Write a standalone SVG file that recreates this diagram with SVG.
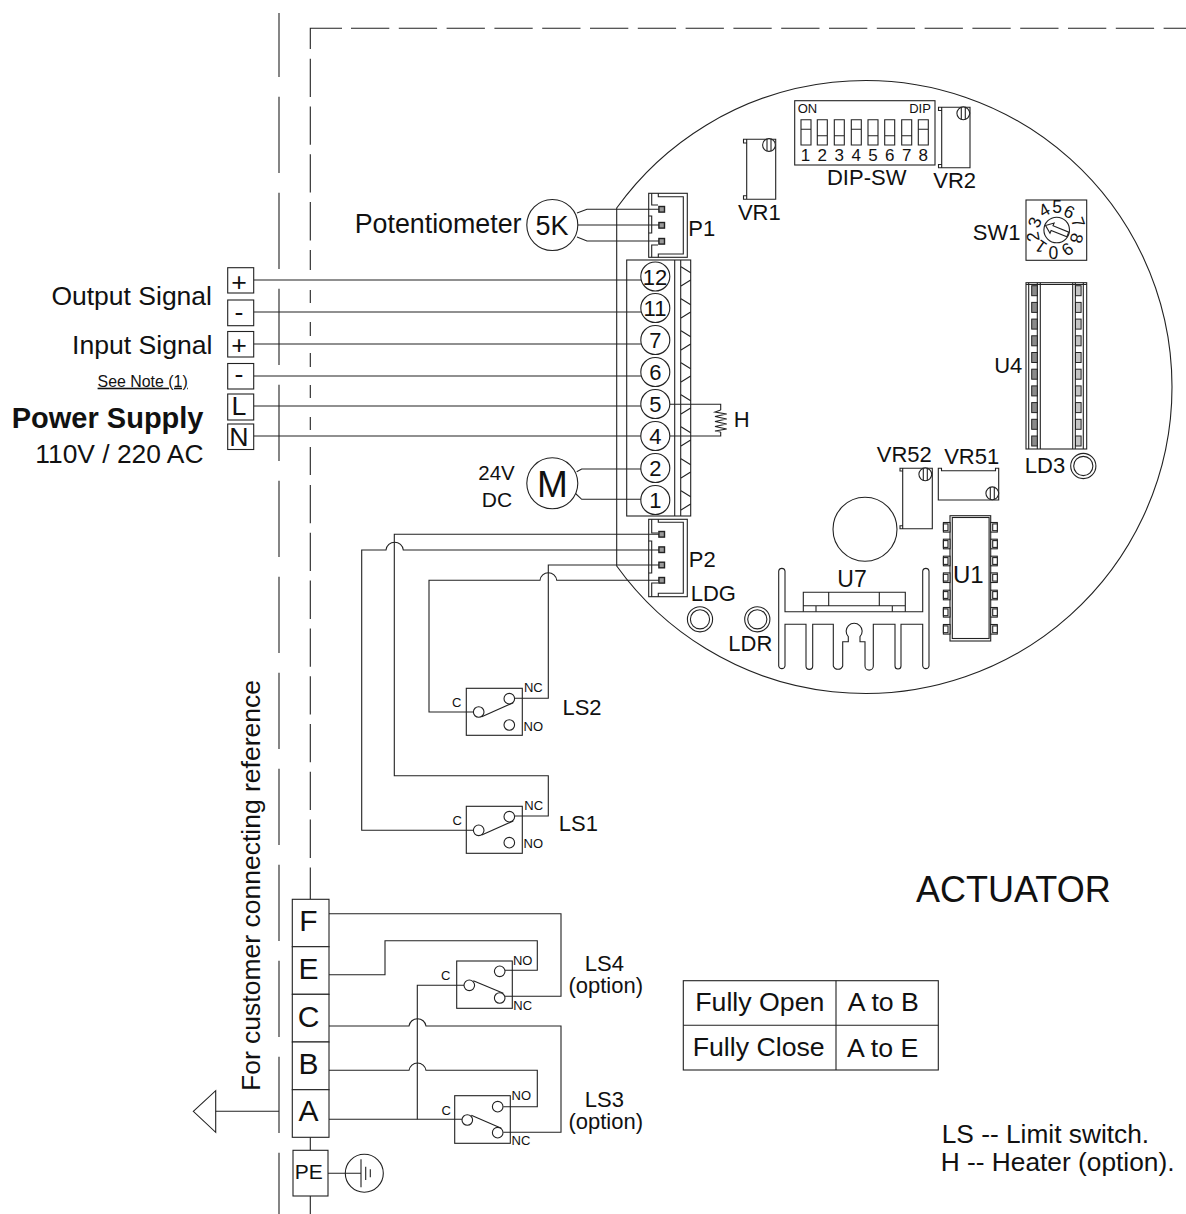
<svg xmlns="http://www.w3.org/2000/svg" width="1186" height="1214" viewBox="0 0 1186 1214">
<defs>
<style>
text{font-family:"Liberation Sans",Arial,sans-serif;fill:#111}
.l,.l *{fill:none;stroke:#222;stroke-width:1.1}
.m{text-anchor:middle}
.e{text-anchor:end}
.s13{font-size:13px}.s21{font-size:22px}.s22{font-size:22px}.s26{font-size:26.7px}.s29{font-size:30px}
.r{fill:#fff;stroke:#222;stroke-width:1.1}
</style>
<g id="pin"><rect x="-2.8" y="-2.8" width="5.6" height="5.6" fill="#999" stroke="#222" stroke-width="1.4"/></g>
<g id="icpin"><rect x="0" y="-4.8" width="6.6" height="9.6" class="r"/><rect x="2" y="-3.4" width="4.6" height="6.8" class="r"/></g>
<g id="u4pin"><rect x="0" y="-5" width="5.6" height="10" fill="#8a8a8a" stroke="#222" stroke-width="1"/></g>
<g id="u4pinr"><rect x="0" y="-5" width="5.6" height="10" fill="#c4c4c4" stroke="#222" stroke-width="1"/></g>
<g id="screw"><circle r="6.4" class="r"/><path d="M-2 -6V6M2 -6V6" class="l"/></g>
<g id="tooth"><path d="M681 266.7L690.7 272.7M690.7 280L681 286" class="l"/></g>
</defs>
<rect width="1186" height="1214" fill="#fff"/>

<g id="boundaries" class="l">
<path d="M279 13V77"/>
<path d="M279 96.7V1214" stroke-dasharray="76.3 19.7"/>
<path d="M310.3 49V28.3H342"/>
<path d="M351 28.3H1186" stroke-dasharray="38.3 9.5"/>
<path d="M310.3 58.7V250" stroke-dasharray="38.3 9.5"/>
<path d="M310.3 250V270M310.3 290V303M310.3 322V336M310.3 353V367M310.3 385V398M310.3 417V430M310.3 447V475"/>
<path d="M310.3 485V899" stroke-dasharray="38.3 9.5"/>
<path d="M310.3 1137V1150M310.3 1196V1214"/>
</g>

<g id="board" class="l">
<path d="M616.7 208A306.5 306.5 0 1 1 616.7 566Z"/>
</g>

<g id="connectors" class="l">
<path d="M253.7 280H641M253.7 312H641M253.7 344H641M253.7 376H641M253.7 406H641M253.7 436H641"/>
<path d="M577 213L587 209.3H661M577.5 225H661M577 237L587 241H661"/>
<path d="M576.7 471.7L581.7 469H641.7M575 493L581.7 499.3H641.7"/>
<path d="M670 404.3H720.7V410M720.7 432V436H670"/>
<path d="M720.7 410L715 412L726.7 414L715 416.5L726.7 419L715 421.5L726.7 424L715 426.5L726.7 429L715 431L720.7 432"/>
<path d="M661 534.3H394.3V775.7H548.3V816H515"/>
<path d="M661 550H403.3A8.7 8.7 0 0 0 386 550H361.7V830.3H473.3"/>
<path d="M661 565H548.3V698.3H515"/>
<path d="M661 580.3H556.7A8.4 8.4 0 0 0 540 580.3H429V712H473.3"/>
<path d="M329 913.7H561V996.3H505"/>
<path d="M329 974.7H385V940.7H537.3V970.3H505"/>
<path d="M329 1026H409A8.6 8.6 0 0 1 426 1026H561V1132.3H503.3"/>
<path d="M329 1070.3H409A8.6 8.6 0 0 1 426 1070.3H537.3V1106.7H503.3"/>
<path d="M329 1119.3H462"/>
<path d="M417.3 1119.3V985.3H464"/>
<path d="M328 1173.3H361"/>
<path d="M215.7 1111.3H279"/>
</g>

<g id="terminal-output-plus"><rect x="227.7" y="267.7" width="26" height="25.3" class="r"/><text x="239" y="290.7" class="m s26">+</text></g>
<g id="terminal-output-minus"><rect x="227.7" y="300" width="26" height="25.7" class="r"/><text x="239" y="320.5" class="m s26">-</text></g>
<g id="terminal-input-plus"><rect x="227.7" y="331.5" width="26" height="25.5" class="r"/><text x="239" y="353.5" class="m s26">+</text></g>
<g id="terminal-input-minus"><rect x="227.7" y="363.5" width="26" height="25.5" class="r"/><text x="239" y="382.5" class="m s26">-</text></g>
<g id="terminal-l"><rect x="227.7" y="394" width="26" height="26" class="r"/><text x="239" y="415" class="m s26">L</text></g>
<g id="terminal-n"><rect x="227.7" y="424" width="26" height="25.5" class="r"/><text x="239" y="445.7" class="m s26">N</text></g>

<g id="left-labels">
<text x="212" y="305" class="e" font-size="26.5">Output Signal</text>
<text x="212.5" y="354" class="e" font-size="26.6">Input Signal</text>
<text x="187.7" y="386.7" class="e" font-size="15.9" text-decoration="underline" style="text-decoration-skip-ink:none">See Note (1)</text>
<text x="203.5" y="428" class="e" font-size="29" font-weight="bold">Power Supply</text>
<text x="203.5" y="463" class="e" font-size="26.4">110V / 220 AC</text>
<text x="521.5" y="232.5" class="e" font-size="26.8">Potentiometer</text>
<text x="496.5" y="479.5" class="m" font-size="20.5">24V</text>
<text x="497" y="507" class="m" font-size="21">DC</text>
<text transform="translate(260 1091) rotate(-90)" font-size="26.5">For customer connecting reference</text>
</g>

<g id="potentiometer"><circle cx="552.3" cy="225" r="25.5" class="r"/><text x="552" y="234.5" class="m" font-size="27">5K</text></g>
<g id="motor"><circle cx="552.3" cy="483.3" r="25.5" class="r"/><text x="552.3" y="496.5" class="m" font-size="37">M</text></g>

<g id="terminal-block">
<rect x="626.7" y="260" width="64" height="256" fill="none" stroke="#222" stroke-width="1.1"/>
<path d="M674.7 260V516M680.7 260V516" class="l"/>
<use href="#tooth"/><use href="#tooth" y="32"/><use href="#tooth" y="64"/><use href="#tooth" y="96"/><use href="#tooth" y="128"/><use href="#tooth" y="160"/><use href="#tooth" y="192"/><use href="#tooth" y="224"/>
<circle cx="655.3" cy="276.5" r="14.5" class="r"/><text x="655" y="284.5" class="m s21">12</text>
<circle cx="655.3" cy="308" r="14.5" class="r"/><text x="655" y="316" class="m s21">11</text>
<circle cx="655.3" cy="340" r="14.5" class="r"/><text x="655.3" y="348" class="m s21">7</text>
<circle cx="655.3" cy="372" r="14.5" class="r"/><text x="655.3" y="380" class="m s21">6</text>
<circle cx="655.3" cy="404" r="14.5" class="r"/><text x="655.3" y="412" class="m s21">5</text>
<circle cx="655.3" cy="436" r="14.5" class="r"/><text x="655.3" y="444" class="m s21">4</text>
<circle cx="655.3" cy="468" r="14.5" class="r"/><text x="655.3" y="476" class="m s21">2</text>
<circle cx="655.3" cy="500" r="14.5" class="r"/><text x="655.3" y="508" class="m s21">1</text>
</g>

<g id="heater-label"><text x="741.7" y="427" class="m s22">H</text></g>

<g id="p1">
<rect x="648.7" y="193.3" width="38.6" height="64" fill="none" stroke="#222" stroke-width="1.1"/>
<path d="M658.3 193.3V196.7H683.3V254H658.3V257.3M651.7 193.3V205H658M648.7 216H651.7V233H648.7M658 245H651.7V257.3" class="l"/>
<use href="#pin" x="661.7" y="209.3"/><use href="#pin" x="661.7" y="225.3"/><use href="#pin" x="661.7" y="241.3"/>
<text x="701.7" y="236" class="m s22">P1</text>
</g>
<g id="p2">
<rect x="648.7" y="519.3" width="38.6" height="77.4" fill="none" stroke="#222" stroke-width="1.1"/>
<path d="M658.3 519.3V522.3H683.3V593.3H658.3V596.7M651.7 519.3V533H658M648.7 541H651.7V573H648.7M658 583H651.7V596.7" class="l"/>
<use href="#pin" x="661.7" y="534.3"/><use href="#pin" x="661.7" y="549.7"/><use href="#pin" x="661.7" y="565"/><use href="#pin" x="661.7" y="580.3"/>
<text x="702.3" y="567" class="m s22">P2</text>
</g>

<g id="vr1">
<path d="M746.7 139.3H775.7V199.3H746.7ZM746.7 139.3H743.5V143H746.7M746.7 195.7H743.5V199.3H746.7" class="l"/>
<use href="#screw" x="769" y="145"/>
<text x="759.3" y="219.5" class="m s22">VR1</text>
</g>
<g id="vr2">
<path d="M941.7 107.3H970V167.7H941.7ZM941.7 107.3H938.5V110.5H941.7M941.7 164.5H938.5V167.7H941.7" class="l"/>
<use href="#screw" x="963.3" y="113.3"/>
<text x="954.7" y="188" class="m s22">VR2</text>
</g>
<g id="dip-sw">
<rect x="794.7" y="100.7" width="140.3" height="64.3" fill="none" stroke="#222" stroke-width="1.1"/>
<text x="807.5" y="113" class="m s13">ON</text><text x="920" y="112.5" class="m s13">DIP</text>
<g class="l">
<path d="M801 119.7h10v25.3h-10zM801 129.3h10"/>
<path d="M817.3 119.7h10v25.3h-10zM817.3 135.7h10"/>
<path d="M834.3 119.7h10v25.3h-10zM834.3 135.7h10"/>
<path d="M851.3 119.7h10v25.3h-10zM851.3 129.3h10"/>
<path d="M868 119.7h10v25.3h-10zM868 135.7h10"/>
<path d="M884.7 119.7h10v25.3h-10zM884.7 135.7h10"/>
<path d="M901.7 119.7h10v25.3h-10zM901.7 135.7h10"/>
<path d="M918.3 119.7h10v25.3h-10zM918.3 129.3h10"/>
</g>
<g font-size="17" class="m">
<text x="805.5" y="161">1</text><text x="822.3" y="161">2</text><text x="839.3" y="161">3</text><text x="856.3" y="161">4</text><text x="873" y="161">5</text><text x="889.7" y="161">6</text><text x="906.7" y="161">7</text><text x="923.3" y="161">8</text>
</g>
<text x="866.7" y="185" class="m s22">DIP-SW</text>
</g>

<g id="sw1">
<rect x="1026" y="200" width="60.7" height="60.3" fill="none" stroke="#222" stroke-width="1.1"/>
<circle cx="1056.7" cy="230" r="12.8" class="r"/>
<path transform="translate(1056.7 230) rotate(22)" d="M-12 0L-5 -5.5V-2.5H12V2.5H-5V5.5Z" class="l"/>
<g font-size="17.5" class="m">
<text transform="translate(1057 206.7)" y="6.2">5</text>
<text transform="translate(1069.3 211.7) rotate(25)" y="6.2">6</text>
<text transform="translate(1078.3 222.3) rotate(70)" y="6.2">7</text>
<text transform="translate(1076.7 238.3) rotate(105)" y="6.2">8</text>
<text transform="translate(1067.7 249.3) rotate(145)" y="6.2">9</text>
<text transform="translate(1053.3 252.7) rotate(180)" y="6.2">0</text>
<text transform="translate(1040.7 246.7) rotate(215)" y="6.2">1</text>
<text transform="translate(1032.7 236.7) rotate(-100)" y="6.2">2</text>
<text transform="translate(1034.5 222.3) rotate(-70)" y="6.2">3</text>
<text transform="translate(1044 210) rotate(-30)" y="6.2">4</text>
</g>
<text x="996.7" y="239.5" class="m s22">SW1</text>
</g>

<g id="u4">
<rect x="1026" y="282.7" width="60.7" height="166.3" fill="none" stroke="#222" stroke-width="1.1"/>
<path d="M1026 284.5H1086.7M1028.7 282.7V449M1037.3 282.7V449M1040.3 282.7V449M1072.7 282.7V449M1075.3 282.7V449M1083.3 282.7V449" class="l"/>
<use href="#u4pin" x="1031.7" y="290.7"/><use href="#u4pin" x="1031.7" y="307.4"/><use href="#u4pin" x="1031.7" y="324.1"/><use href="#u4pin" x="1031.7" y="340.8"/><use href="#u4pin" x="1031.7" y="357.5"/><use href="#u4pin" x="1031.7" y="374.2"/><use href="#u4pin" x="1031.7" y="390.9"/><use href="#u4pin" x="1031.7" y="407.6"/><use href="#u4pin" x="1031.7" y="424.3"/><use href="#u4pin" x="1031.7" y="441"/>
<use href="#u4pinr" x="1075.5" y="290.7"/><use href="#u4pinr" x="1075.5" y="307.4"/><use href="#u4pinr" x="1075.5" y="324.1"/><use href="#u4pinr" x="1075.5" y="340.8"/><use href="#u4pinr" x="1075.5" y="357.5"/><use href="#u4pinr" x="1075.5" y="374.2"/><use href="#u4pinr" x="1075.5" y="390.9"/><use href="#u4pinr" x="1075.5" y="407.6"/><use href="#u4pinr" x="1075.5" y="424.3"/><use href="#u4pinr" x="1075.5" y="441"/>
<text x="1008.3" y="373" class="m s22">U4</text>
</g>

<g id="ld3"><circle cx="1083.3" cy="466" r="12.6" class="l"/><circle cx="1083.3" cy="466" r="9.6" class="l"/><text x="1045" y="473" class="m s22">LD3</text></g>
<g id="ldg"><circle cx="700" cy="619.3" r="12.6" class="l"/><circle cx="700" cy="619.3" r="9.6" class="l"/><text x="713.3" y="601" class="m s22">LDG</text></g>
<g id="ldr"><circle cx="757.3" cy="619.3" r="12.6" class="l"/><circle cx="757.3" cy="619.3" r="9.6" class="l"/><text x="750.3" y="651" class="m s22">LDR</text></g>

<g id="vr52">
<path d="M902.7 468.3H932.3V528.7H902.7ZM902.7 468.3H900V471H902.7M902.7 525.7H900V528.7H902.7" class="l"/>
<use href="#screw" x="925.3" y="474.3"/>
<text x="904.3" y="462" class="m s22">VR52</text>
</g>
<g id="vr51">
<path d="M938.3 468.3V500H998.7V468.3H995.5V470.7H941.5V468.3Z" class="l"/>
<use href="#screw" x="992.3" y="493.3"/>
<text x="971.7" y="464" class="m s22">VR51</text>
</g>
<g id="capacitor"><circle cx="865" cy="529.3" r="32" class="l"/></g>

<g id="u1">
<rect x="950" y="515.7" width="40.7" height="125.3" fill="none" stroke="#222" stroke-width="1.1"/>
<rect x="952.3" y="517.5" width="36.8" height="121" fill="none" stroke="#222" stroke-width="1.1"/>
<g transform="translate(950 0) scale(-1 1)">
<use href="#icpin" y="527.3"/><use href="#icpin" y="544"/><use href="#icpin" y="561"/><use href="#icpin" y="577.7"/><use href="#icpin" y="595"/><use href="#icpin" y="612.3"/><use href="#icpin" y="629.3"/>
</g>
<g transform="translate(990.7 0)">
<use href="#icpin" y="527.3"/><use href="#icpin" y="544"/><use href="#icpin" y="561"/><use href="#icpin" y="577.7"/><use href="#icpin" y="595"/><use href="#icpin" y="612.3"/><use href="#icpin" y="629.3"/>
</g>
<text x="968.3" y="582.5" class="m" font-size="24">U1</text>
</g>

<g id="u7">
<path class="l" d="M778.7 571A3.2 3.2 0 0 1 785 571V611.7H922.7V571A3.2 3.2 0 0 1 929 571V666A3.2 3.2 0 0 1 922.7 666V624.3H901V666A3 3 0 0 1 895 666V624.3H873.3V666A4 4 0 0 1 865 666V641.7H860V636.7A8 8 0 1 0 848.3 636.7V641.7H842.7V666A5 5 0 0 1 833.3 666V624.3H812.7V666A3.3 3.3 0 0 1 806 666V624.3H785V666A3.2 3.2 0 0 1 778.7 666Z"/>
<path class="l" d="M803.3 611.7V592.3H905.3V611.7M803.3 605.7H905.3M828.7 592.3V605.7M879.3 592.3V605.7M816 605.7V611.7M892.3 605.7V611.7"/>
<text x="852" y="586.5" class="m" font-size="23">U7</text>
</g>

<g id="ls2">
<rect x="466.3" y="688.3" width="56" height="47" fill="none" stroke="#222" stroke-width="1.1"/>
<circle cx="478.7" cy="712" r="5.3" class="r"/><circle cx="509.3" cy="698.7" r="5.3" class="r"/><circle cx="509.3" cy="725" r="5.3" class="r"/>
<path d="M481.7 716.7L513.3 702.7" class="l"/>
<text x="456.7" y="706.5" class="m s13">C</text><text x="533.3" y="692.3" class="m s13">NC</text><text x="533.3" y="731.3" class="m s13">NO</text>
<text x="582" y="714.5" class="m s22">LS2</text>
</g>
<g id="ls1">
<rect x="466.3" y="806.3" width="56" height="47" fill="none" stroke="#222" stroke-width="1.1"/>
<circle cx="478.7" cy="830.3" r="5.3" class="r"/><circle cx="509.3" cy="816.7" r="5.3" class="r"/><circle cx="509.3" cy="842.7" r="5.3" class="r"/>
<path d="M481.7 835L513.3 821" class="l"/>
<text x="457.3" y="824.7" class="m s13">C</text><text x="533.7" y="810" class="m s13">NC</text><text x="533.3" y="848" class="m s13">NO</text>
<text x="578.3" y="831" class="m s22">LS1</text>
</g>
<g id="ls4">
<rect x="456.7" y="961" width="55.6" height="47.3" fill="none" stroke="#222" stroke-width="1.1"/>
<circle cx="469.3" cy="985.3" r="5.3" class="r"/><circle cx="499.7" cy="971.3" r="5.3" class="r"/><circle cx="499.7" cy="998" r="5.3" class="r"/>
<path d="M473.3 980.7L503.3 993.3" class="l"/>
<text x="445.7" y="980.4" class="m s13">C</text><text x="522.7" y="965" class="m s13">NO</text><text x="522.7" y="1010.4" class="m s13">NC</text>
<text x="604.3" y="971" class="m s22">LS4</text><text x="605.7" y="993" class="m s22">(option)</text>
</g>
<g id="ls3">
<rect x="454.7" y="1095.7" width="55.6" height="47.6" fill="none" stroke="#222" stroke-width="1.1"/>
<circle cx="467.3" cy="1120" r="5.3" class="r"/><circle cx="497.7" cy="1106.7" r="5.3" class="r"/><circle cx="497.7" cy="1132.7" r="5.3" class="r"/>
<path d="M471.3 1115.3L501.3 1128.3" class="l"/>
<text x="446.3" y="1115.4" class="m s13">C</text><text x="521.3" y="1100" class="m s13">NO</text><text x="521" y="1145" class="m s13">NC</text>
<text x="604.3" y="1107" class="m s22">LS3</text><text x="605.7" y="1129.3" class="m s22">(option)</text>
</g>

<g id="terminal-f"><rect x="292.3" y="899.3" width="36.7" height="47.4" class="r"/><text x="308.5" y="931" class="m s29">F</text></g>
<g id="terminal-e"><rect x="292.3" y="946.7" width="36.7" height="47.6" class="r"/><text x="308.5" y="979" class="m s29">E</text></g>
<g id="terminal-c"><rect x="292.3" y="994.3" width="36.7" height="47.7" class="r"/><text x="308.5" y="1027" class="m s29">C</text></g>
<g id="terminal-b"><rect x="292.3" y="1042" width="36.7" height="47.7" class="r"/><text x="308.5" y="1074" class="m s29">B</text></g>
<g id="terminal-a"><rect x="292.3" y="1089.7" width="36.7" height="47.6" class="r"/><text x="308.5" y="1121" class="m s29">A</text></g>
<g id="terminal-pe"><rect x="293" y="1150.3" width="35" height="45.7" class="r"/><text x="308.7" y="1179" class="m" font-size="21">PE</text></g>
<g id="ground">
<circle cx="364.3" cy="1173.3" r="19" fill="none" stroke="#222" stroke-width="1.1"/>
<path d="M361 1159.3V1187.3M365.7 1166.7V1180M370.3 1169.3V1177.3" class="l"/>
</g>
<g id="arrow"><path d="M193.3 1111.3L215.7 1090.7V1132.3Z" class="l"/></g>

<g id="actuator-label"><text x="916" y="901.7" font-size="36">ACTUATOR</text></g>
<g id="table">
<rect x="683.3" y="980.7" width="255" height="89.3" fill="none" stroke="#222" stroke-width="1.1"/>
<path d="M683.3 1025.3H938.3M836 980.7V1070" class="l"/>
<text x="695.3" y="1010.7" class="s26">Fully Open</text>
<text x="847.7" y="1010.7" class="s26">A to B</text>
<text x="692.7" y="1055.7" class="s26">Fully Close</text>
<text x="847" y="1056.7" class="s26">A to E</text>
</g>
<g id="legend">
<text x="941.7" y="1142.7" font-size="26.3">LS -- Limit switch.</text>
<text x="940.7" y="1171" font-size="26.3">H -- Heater (option).</text>
</g>
</svg>
